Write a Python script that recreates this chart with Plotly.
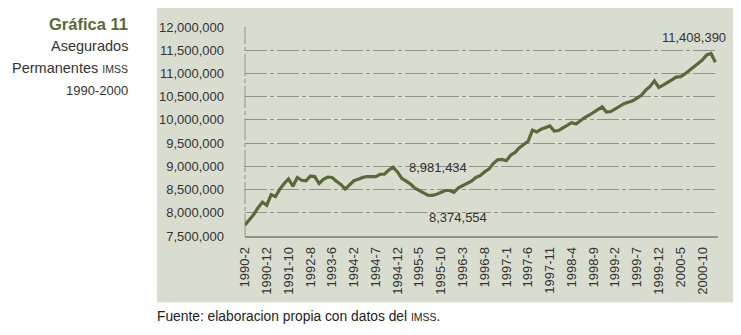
import plotly.graph_objects as go

# ---- data ----
periods = (
    ["1990-2", "1990-4", "1990-6", "1990-8", "1990-10", "1990-12",
     "1991-2", "1991-4", "1991-6", "1991-8", "1991-10", "1991-12",
     "1992-2", "1992-4", "1992-6", "1992-8", "1992-10", "1992-12",
     "1993-2", "1993-4", "1993-6", "1993-8", "1993-10", "1993-12",
     "1994-1", "1994-2", "1994-3", "1994-4", "1994-5", "1994-6", "1994-7",
     "1994-8", "1994-9", "1994-10", "1994-11", "1994-12"]
    + ["1995-%d" % m for m in range(1, 13)]
    + ["1996-%d" % m for m in range(1, 13)]
    + ["1997-%d" % m for m in range(1, 13)]
    + ["1998-%d" % m for m in range(1, 13)]
    + ["1999-%d" % m for m in range(1, 13)]
    + ["2000-%d" % m for m in range(1, 13)]
    + ["2001-1"]
)

asegurados = [
    7740000, 7840000, 7960000, 8110000, 8230000, 8160000, 8390000, 8350000,
    8510000, 8630000, 8730000, 8570000, 8760000, 8700000, 8690000, 8790000,
    8780000, 8630000, 8720000, 8770000, 8760000, 8680000, 8610000, 8510000,
    8600000, 8690000, 8720000, 8760000, 8780000, 8780000, 8780000, 8830000,
    8830000, 8920000, 8981434, 8880000, 8740000, 8680000, 8620000, 8530000,
    8470000, 8430000, 8380000, 8374554, 8400000, 8440000, 8480000, 8480000,
    8440000, 8540000, 8590000, 8640000, 8680000, 8760000, 8800000, 8880000,
    8940000, 9060000, 9140000, 9150000, 9120000, 9240000, 9300000, 9400000,
    9470000, 9540000, 9780000, 9740000, 9800000, 9840000, 9870000, 9760000,
    9770000, 9830000, 9880000, 9940000, 9910000, 9990000, 10050000, 10100000,
    10170000, 10220000, 10280000, 10170000, 10180000, 10240000, 10310000,
    10350000, 10380000, 10410000, 10470000, 10530000, 10640000, 10720000,
    10840000, 10700000, 10750000, 10800000, 10860000, 10920000, 10930000,
    10990000, 11070000, 11150000, 11220000, 11290000, 11400000, 11430000,
    11240000,
]

tick_labels = periods[::5]
y_ticks = [7500000, 8000000, 8500000, 9000000, 9500000, 10000000,
           10500000, 11000000, 11500000, 12000000]

value_labels = {"peak94": ("1994-11", 8981434, "8,981,434"),
                "min95": ("1995-8", 8374554, "8,374,554"),
                "peak00": ("2000-12", 11430000, "11,408,390")}

# ---- style ----
FONT = "Liberation Sans, Arial, Helvetica, sans-serif"
PANEL = "#d9ddcf"
GRID = "#8e9488"
LINE = "#58693a"
TXT = "#333333"
DASH = "22px,3px,4px,3px"

# the page body adds an 8px offset; the figure is sized to compensate
OFF = 8
W, H = 741 - OFF, 335 - OFF
ml, mr, mt, mb = 245 - OFF, 23, 25 - OFF, 99
pw, ph = W - ml - mr, H - mt - mb


def px(xs):  # screen x -> paper x
    return (xs - OFF - ml) / pw


def py(ys):  # screen y -> paper y
    return (H - mb - (ys - OFF)) / ph


fig = go.Figure()
fig.add_trace(go.Scatter(
    x=periods, y=asegurados, mode="lines",
    line=dict(color=LINE, width=3.2), hoverinfo="skip", showlegend=False))

fig.update_layout(
    width=W, height=H,
    margin=dict(l=ml, r=mr, t=mt, b=mb, pad=0),
    paper_bgcolor="white", plot_bgcolor="rgba(0,0,0,0)",
    font=dict(family=FONT, size=13, color=TXT),
    showlegend=False,
)

fig.update_xaxes(
    type="category", categoryorder="array", categoryarray=periods,
    range=[0, len(periods) - 0.4],
    tickmode="array", tickvals=tick_labels, ticktext=tick_labels,
    tickangle=-90, ticks="", showgrid=False,
    showline=True, linecolor=GRID, linewidth=1.5,
    tickfont=dict(family=FONT, size=13, color=TXT),
    ticklabelstandoff=4, zeroline=False,
)
fig.update_yaxes(
    range=[7500000, 12000000], tickmode="array", tickvals=y_ticks,
    tickformat=",d", showgrid=True, gridcolor=GRID, gridwidth=1,
    griddash=DASH, zeroline=False, showline=False,
    ticks="", ticklabelstandoff=20,
    tickfont=dict(family=FONT, size=13, color=TXT),
)

# panel background and dashed left axis
fig.add_shape(type="rect", xref="paper", yref="paper", layer="below",
              x0=px(157), x1=px(745), y0=py(303), y1=py(5),
              fillcolor=PANEL, line=dict(width=0))
fig.add_shape(type="line", xref="paper", yref="paper", layer="below",
              x0=0, x1=0, y0=0, y1=1,
              line=dict(color=GRID, width=1, dash=DASH))

# value labels
k, v, t = value_labels["peak94"]
fig.add_annotation(x=k, y=v, text=t, showarrow=False, xanchor="left",
                   yanchor="middle", xshift=14, yshift=0,
                   font=dict(size=13, color=TXT))
k, v, t = value_labels["min95"]
fig.add_annotation(x=k, y=v, text=t, showarrow=False, xanchor="left",
                   yanchor="middle", xshift=-5, yshift=-22,
                   font=dict(size=13, color=TXT))
k, v, t = value_labels["peak00"]
fig.add_annotation(x=k, y=v, text=t, showarrow=False, xanchor="right",
                   yanchor="middle", xshift=17, yshift=16,
                   font=dict(size=13, color=TXT))

# titles
fig.add_annotation(xref="paper", yref="paper", x=px(130), y=py(21.5),
                   text="<b>Gráfica 11</b>", showarrow=False,
                   xanchor="right", yanchor="middle",
                   font=dict(family=FONT, size=16.5, color="#5a6b3a"))
fig.add_annotation(xref="paper", yref="paper", x=px(130), y=py(44.5),
                   text="Asegurados", showarrow=False,
                   xanchor="right", yanchor="middle",
                   font=dict(family=FONT, size=14.5, color=TXT))
fig.add_annotation(xref="paper", yref="paper", x=px(130), y=py(66),
                   text="Permanentes <span style='font-size:10.5px'>IMSS</span>",
                   showarrow=False, xanchor="right", yanchor="middle",
                   font=dict(family=FONT, size=14.5, color=TXT))
fig.add_annotation(xref="paper", yref="paper", x=px(130), y=py(89),
                   text="1990-2000", showarrow=False,
                   xanchor="right", yanchor="middle",
                   font=dict(family=FONT, size=13, color=TXT))
fig.add_annotation(xref="paper", yref="paper", x=px(155), y=py(317),
                   text="Fuente: elaboracion propia con datos del <span style='font-size:10.5px'>IMSS</span>.",
                   showarrow=False, xanchor="left", yanchor="middle",
                   font=dict(family=FONT, size=13.8, color="#222222"))

fig.write_html("out.html")
